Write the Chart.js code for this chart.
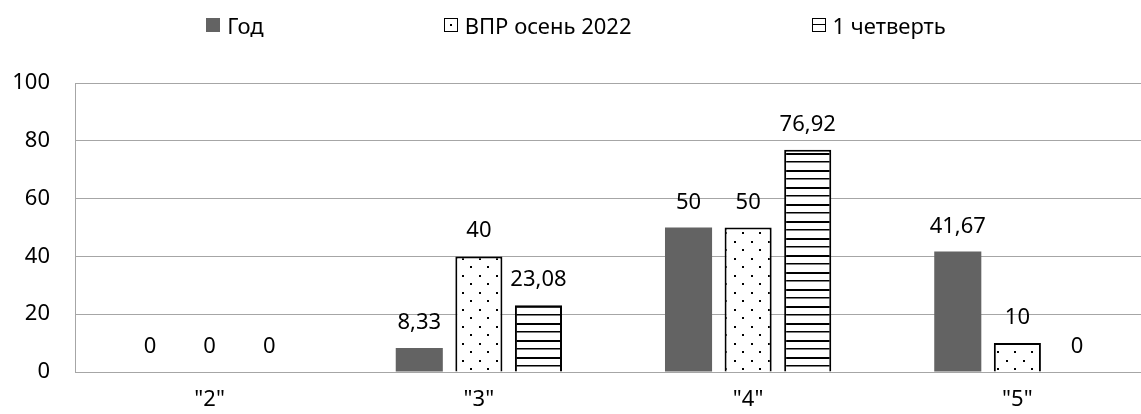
<!DOCTYPE html>
<html lang="ru">
<head>
<meta charset="UTF-8">
<title>Оценки</title>
<script src="https://cdn.jsdelivr.net/npm/chart.js@4.4.3/dist/chart.umd.min.js"></script>
<style>
  body { margin: 0; overflow: hidden; background: #fff; font-family: 'Noto Sans', sans-serif; }
  #wrap { position: relative; width: 1152px; height: 414px; }
  #legend { position: absolute; top: 10px; left: 0; width: 1152px; padding-left: 0; box-sizing: border-box;
            display: flex; justify-content: center; gap: 180px; font-size: 22px; line-height: 30px; color: #000; }
  .item { display: flex; align-items: center; white-space: nowrap; }
  .sw { width: 14px; height: 14px; margin-right: 7px; box-sizing: border-box; position: relative; }
  .sw.solid { background: #636363; }
  .sw.dots { border: 1px solid #000; }
  .sw.dots::after { content: ''; position: absolute; left: 5px; top: 5px; width: 2px; height: 2px; background: #000; }
  .sw.lines { border: 1px solid #000; }
  .sw.lines::after { content: ''; position: absolute; left: 0; right: 0; top: 5px; height: 1px; background: #000; }
</style>
</head>
<body>
<div id="wrap">
  <canvas id="chart" width="1152" height="414"></canvas>
  <div id="legend"></div>
</div>
<script>
// data
const categories = ['"2"', '"3"', '"4"', '"5"'];
const seriesNames = ['Год', 'ВПР осень 2022', '1 четверть'];
const god = [0, 8.33, 50, 41.67];
const vpr = [0, 40, 50, 10];
const q1 = [0, 23.08, 76.92, 0];
const yTicks = [0, 20, 40, 60, 80, 100];

const FONT = '"Noto Sans", sans-serif';

// fill patterns like the excel ones
function dotPattern() {
  const c = document.createElement('canvas');
  c.width = 17; c.height = 17;
  const g = c.getContext('2d');
  g.fillStyle = '#fff';
  g.fillRect(0, 0, 17, 17);
  g.fillStyle = '#000';
  g.fillRect(3, 3, 2, 2);
  g.fillRect(11, 11, 2, 2);
  return g.createPattern(c, 'repeat');
}
function linePattern() {
  const c = document.createElement('canvas');
  c.width = 4; c.height = 17;
  const g = c.getContext('2d');
  g.fillStyle = '#fff';
  g.fillRect(0, 0, 4, 17);
  g.fillStyle = '#000';
  g.fillRect(0, 0, 4, 2);
  g.fillRect(0, 8, 4, 1.5);
  return g.createPattern(c, 'repeat');
}

// legend in html
const swClass = ['solid', 'dots', 'lines'];
const legendEl = document.getElementById('legend');
seriesNames.forEach((name, i) => {
  const it = document.createElement('div');
  it.className = 'item';
  it.innerHTML = '<span class="sw ' + swClass[i] + '"></span><span></span>';
  it.lastChild.textContent = name;
  legendEl.appendChild(it);
});

const valueLabels = {
  id: 'valueLabels',
  afterDatasetsDraw(chart) {
    const ctx = chart.ctx;
    ctx.save();
    ctx.font = '22px ' + FONT;
    ctx.fillStyle = '#000';
    ctx.textAlign = 'center';
    ctx.textBaseline = 'alphabetic';
    chart.data.datasets.forEach((ds, i) => {
      chart.getDatasetMeta(i).data.forEach((bar, j) => {
        ctx.fillText(String(ds.data[j]).replace('.', ','), bar.x, bar.y - 19);
      });
    });
    ctx.restore();
  }
};

const ctx = document.getElementById('chart').getContext('2d');
new Chart(ctx, {
  type: 'bar',
  data: {
    labels: categories,
    datasets: [
      { label: seriesNames[0], data: god, backgroundColor: '#636363', borderWidth: 0 },
      { label: seriesNames[1], data: vpr, backgroundColor: dotPattern(), borderColor: '#000', borderWidth: 2 },
      { label: seriesNames[2], data: q1, backgroundColor: linePattern(), borderColor: '#000', borderWidth: 2 }
    ]
  },
  options: {
    responsive: false,
    animation: false,
    devicePixelRatio: 1,
    categoryPercentage: 0.664,
    barPercentage: 0.79,
    layout: { padding: { top: 83, right: 0, left: 0, bottom: 0 } },
    plugins: {
      legend: { display: false },
      tooltip: { enabled: false }
    },
    scales: {
      x: {
        grid: { display: false },
        border: { color: '#a6a6a6', width: 1 },
        ticks: { color: '#000', font: { family: FONT, size: 22 }, padding: 7, maxRotation: 0 },
        afterFit: s => { s.height = 42; }
      },
      y: {
        min: 0,
        max: 100,
        afterBuildTicks: s => { s.ticks = yTicks.map(v => ({ value: v })); },
        grid: { color: '#a6a6a6', lineWidth: 1, drawTicks: false },
        border: { color: '#a6a6a6', width: 1 },
        ticks: { color: '#000', font: { family: FONT, size: 22 }, padding: 25 },
        afterFit: s => { s.width = 75; }
      }
    }
  },
  plugins: [valueLabels]
});
</script>
</body>
</html>
